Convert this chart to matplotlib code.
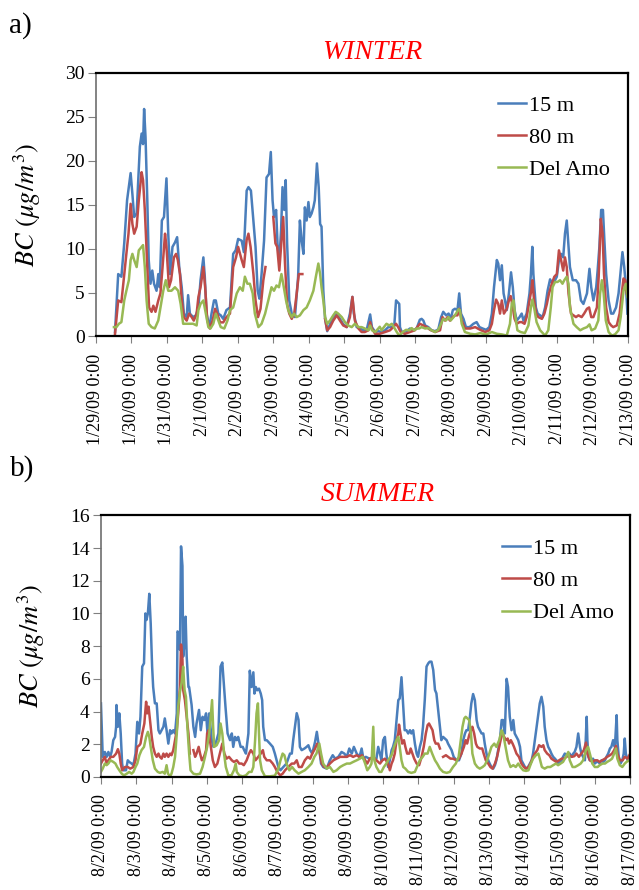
import numpy as np
import matplotlib
matplotlib.use('Agg')
import matplotlib.pyplot as plt

plt.rcParams['font.family'] = ['Liberation Serif', 'DejaVu Serif']
plt.rcParams['mathtext.fontset'] = 'stix'

# time axis in days since the first tick; None marks a gap in the record
winter_ticks = ['1/29/09 0:00', '1/30/09 0:00', '1/31/09 0:00', '2/1/09 0:00',
                '2/2/09 0:00', '2/3/09 0:00', '2/4/09 0:00', '2/5/09 0:00',
                '2/6/09 0:00', '2/7/09 0:00', '2/8/09 0:00', '2/9/09 0:00',
                '2/10/09 0:00', '2/11/09 0:00', '2/12/09 0:00', '2/13/09 0:00']
summer_ticks = ['8/2/09 0:00', '8/3/09 0:00', '8/4/09 0:00', '8/5/09 0:00',
                '8/6/09 0:00', '8/7/09 0:00', '8/8/09 0:00', '8/9/09 0:00',
                '8/10/09 0:00', '8/11/09 0:00', '8/12/09 0:00', '8/13/09 0:00',
                '8/14/09 0:00', '8/15/09 0:00', '8/16/09 0:00', '8/17/09 0:00']
series_names = ['15 m', '80 m', 'Del Amo']

winter_15m = [
    (0.54, 0.5), (0.63, 7.1), (0.72, 6.8), (0.80, 10.6), (0.88, 15.5), (0.98, 18.6),
    (1.03, 16.2), (1.08, 13.6), (1.15, 14.0), (1.24, 21.6), (1.29, 23.1), (1.33, 21.9),
    (1.36, 25.9), (1.40, 22.7), (1.45, 15.5), (1.49, 8.7), (1.54, 6.0), (1.59, 7.5),
    (1.64, 6.0), (1.71, 5.2), (1.76, 7.1), (1.80, 5.6), (1.86, 13.2), (1.92, 13.6),
    (1.99, 18.0), (2.04, 11.7), (2.09, 7.1), (2.16, 10.2), (2.23, 10.7), (2.29, 11.3),
    (2.35, 7.9), (2.42, 5.6), (2.48, 2.6), (2.56, 2.2), (2.60, 4.7), (2.65, 2.6),
    (2.74, 2.2), (2.82, 2.4), (2.89, 3.3), (2.95, 6.4), (3.03, 9.0), (3.07, 6.8),
    (3.12, 2.6), (3.20, 1.06), (3.26, 2.6), (3.33, 4.1), (3.38, 4.1), (3.45, 2.6),
    (3.52, 2.4), (3.59, 2.0), (3.68, 3.0), (3.78, 3.3), (3.87, 9.4), (3.94, 9.8),
    (4.01, 11.1), (4.11, 10.9), (4.17, 9.6), (4.25, 16.6), (4.30, 17.0), (4.37, 16.6),
    (4.44, 13.2), (4.50, 10.2), (4.56, 5.2), (4.61, 4.3), (4.67, 7.1), (4.74, 10.9),
    (4.81, 18.1), (4.88, 18.5), (4.93, 21.0), (4.98, 15.5), (5.02, 13.6), (5.08, 14.4),
    (5.12, 10.5), (5.17, 8.7), (5.22, 12.1), (5.26, 17.0), (5.31, 14.4), (5.35, 17.8),
    (5.39, 10.6), (5.45, 4.1), (5.52, 2.6), (5.61, 2.2), (5.70, 6.8), (5.75, 13.2),
    (5.80, 10.9), (5.85, 9.4), (5.89, 14.7), (5.94, 13.2), (5.99, 15.3), (6.03, 13.6),
    (6.08, 14.0), (6.13, 14.7), (6.17, 15.5), (6.23, 19.7), (6.28, 17.0), (6.32, 12.8),
    (6.36, 12.5), (6.41, 5.2), (6.46, 2.0), (6.52, 0.6), (6.60, 1.4), (6.69, 2.2),
    (6.79, 2.6), (6.88, 2.0), (6.97, 1.4), (7.07, 1.06), (7.16, 2.6), (7.23, 4.5),
    (7.27, 2.6), (7.35, 1.06), (7.44, 0.9), (7.54, 0.7), (7.63, 0.7), (7.73, 2.5),
    (7.78, 1.06), (7.87, 0.5), (7.96, 0.6), (8.05, 0.5), (8.15, 0.7), (8.24, 1.06),
    (8.34, 1.06), (8.41, 1.25), (8.46, 4.1), (8.55, 3.7), (8.57, 1.06), (8.62, 0.5),
    (8.76, 0.6), (8.85, 0.9), (8.95, 0.7), (9.04, 0.9), (9.13, 1.9), (9.18, 2.0),
    (9.23, 1.8), (9.28, 1.25), (9.37, 1.06), (9.46, 0.7), (9.56, 0.6), (9.65, 0.8),
    (9.73, 2.2), (9.79, 2.8), (9.87, 2.4), (9.94, 2.6), (10.00, 2.0), (10.06, 3.0),
    (10.12, 3.15), (10.19, 3.0), (10.24, 4.9), (10.29, 2.6), (10.36, 2.0), (10.43, 1.06),
    (10.53, 1.06), (10.64, 1.44), (10.73, 1.63), (10.81, 1.06), (10.90, 0.9), (11.00, 0.75),
    (11.09, 1.06), (11.16, 2.6), (11.22, 5.6), (11.30, 8.7), (11.34, 8.3), (11.39, 6.4),
    (11.44, 8.1), (11.49, 4.9), (11.53, 4.1), (11.58, 3.0), (11.64, 4.9), (11.70, 7.3),
    (11.75, 5.6), (11.80, 3.0), (11.86, 1.8), (11.94, 2.2), (12.00, 2.6), (12.05, 1.8),
    (12.14, 2.6), (12.22, 4.9), (12.26, 7.1), (12.30, 10.2), (12.33, 7.1), (12.40, 3.3),
    (12.45, 2.6), (12.52, 2.4), (12.59, 2.2), (12.66, 3.3), (12.73, 5.2), (12.80, 6.5),
    (12.87, 6.0), (12.94, 6.4), (12.99, 6.8), (13.05, 8.7), (13.11, 9.4), (13.17, 9.0),
    (13.22, 11.7), (13.27, 13.2), (13.32, 10.2), (13.36, 7.9), (13.44, 6.4), (13.53, 6.4),
    (13.60, 6.0), (13.67, 4.1), (13.74, 3.7), (13.84, 4.9), (13.91, 7.7), (13.96, 5.6),
    (14.02, 4.1), (14.10, 5.6), (14.14, 7.5), (14.19, 10.2), (14.24, 14.4), (14.29, 14.4),
    (14.33, 11.0), (14.38, 7.1), (14.45, 4.1), (14.52, 2.6), (14.58, 2.6), (14.66, 3.3),
    (14.73, 4.9), (14.79, 7.5), (14.84, 9.6), (14.89, 7.9), (14.94, 5.6), (14.98, 2.6),
]

winter_80m = [
    (0.54, 0.3), (0.63, 4.1), (0.72, 3.9), (0.80, 7.1), (0.86, 9.4), (0.92, 11.7),
    (0.98, 15.1), (1.03, 12.8), (1.08, 11.7), (1.15, 12.5), (1.21, 15.5), (1.29, 18.7),
    (1.33, 17.8), (1.38, 14.4), (1.45, 7.9), (1.50, 3.3), (1.57, 2.8), (1.62, 3.5),
    (1.68, 2.8), (1.76, 4.1), (1.82, 4.9), (1.88, 7.9), (1.95, 11.7), (1.99, 10.2),
    (2.06, 5.6), (2.12, 6.4), (2.20, 9.0), (2.26, 9.4), (2.31, 8.7), (2.37, 7.1),
    (2.42, 4.1), (2.48, 2.2), (2.56, 1.8), (2.63, 2.6), (2.70, 2.2), (2.76, 1.8),
    (2.84, 2.6), (2.89, 4.5), (2.95, 5.6), (3.03, 7.9), (3.08, 5.6), (3.14, 1.8),
    (3.21, 0.9), (3.29, 1.8), (3.36, 3.15), (3.42, 2.6), (3.50, 1.6), (3.59, 1.6),
    (3.68, 2.2), (3.78, 2.6), (3.87, 7.9), (3.95, 9.0), (4.01, 10.2), (4.11, 8.7),
    (4.17, 7.9), (4.25, 11.0), (4.30, 11.7), (4.36, 10.2), (4.44, 7.1), (4.50, 4.1),
    (4.57, 2.2), (4.64, 3.15), (4.72, 6.4), (4.78, 7.9), (4.79, None), (5.00, 13.6),
    (5.06, 10.6), (5.11, 10.2), (5.17, 7.5), (5.22, 10.2), (5.28, 13.6), (5.33, 8.3),
    (5.39, 3.7), (5.45, 2.6), (5.52, 2.0), (5.59, 2.6), (5.66, 4.9), (5.72, 7.1),
    (5.82, 7.1), (5.84, None), (6.46, 2.0), (6.52, 0.7), (6.60, 1.06), (6.69, 1.8),
    (6.79, 2.4), (6.88, 1.8), (6.97, 1.25), (7.07, 1.06), (7.16, 2.2), (7.23, 4.5),
    (7.30, 1.8), (7.40, 0.9), (7.49, 0.5), (7.58, 0.5), (7.68, 0.7), (7.73, 1.63),
    (7.78, 0.9), (7.87, 0.3), (8.00, 0.3), (8.15, 0.5), (8.29, 0.7), (8.38, 1.06),
    (8.46, 1.44), (8.52, 1.06), (8.59, 0.5), (8.71, 0.3), (8.85, 0.5), (8.99, 0.7),
    (9.13, 1.44), (9.23, 1.25), (9.32, 1.06), (9.42, 0.75), (9.56, 0.5), (9.70, 0.7),
    (9.77, 2.2), (9.84, 1.8), (9.91, 2.2), (9.98, 1.8), (10.06, 2.2), (10.12, 2.4),
    (10.19, 2.4), (10.24, 3.15), (10.31, 1.8), (10.40, 0.9), (10.55, 0.9), (10.69, 1.06),
    (10.83, 0.75), (10.97, 0.5), (11.09, 0.7), (11.16, 1.44), (11.22, 3.0), (11.28, 4.2),
    (11.34, 3.7), (11.39, 2.6), (11.44, 4.1), (11.50, 2.6), (11.58, 3.15), (11.64, 4.1),
    (11.69, 4.6), (11.75, 3.3), (11.80, 2.0), (11.86, 1.44), (11.94, 1.63), (12.00, 1.63),
    (12.08, 1.44), (12.14, 2.2), (12.22, 4.1), (12.27, 5.2), (12.30, 6.4), (12.35, 4.1),
    (12.41, 2.6), (12.47, 2.2), (12.57, 2.0), (12.64, 2.6), (12.71, 3.7), (12.77, 4.9),
    (12.85, 6.0), (12.92, 6.8), (12.99, 7.1), (13.05, 9.8), (13.11, 8.7), (13.17, 7.5),
    (13.22, 9.0), (13.27, 7.9), (13.32, 4.9), (13.39, 2.6), (13.46, 2.4), (13.53, 2.2),
    (13.60, 2.4), (13.69, 2.2), (13.76, 2.6), (13.84, 3.15), (13.90, 3.3), (13.96, 2.2),
    (14.02, 2.2), (14.12, 3.3), (14.17, 6.8), (14.23, 13.4), (14.28, 11.7), (14.32, 7.1),
    (14.38, 3.3), (14.45, 1.63), (14.52, 1.25), (14.58, 1.06), (14.68, 1.25), (14.76, 2.6),
    (14.82, 4.9), (14.87, 6.6), (14.92, 6.4), (14.96, 4.9),
]

winter_delamo = [
    (0.51, 1.06), (0.58, 1.06), (0.65, 1.44), (0.72, 1.63), (0.80, 4.1), (0.86, 5.2),
    (0.93, 6.4), (0.98, 8.7), (1.03, 9.4), (1.08, 8.7), (1.15, 7.9), (1.21, 9.8),
    (1.29, 10.2), (1.33, 10.4), (1.38, 7.9), (1.43, 4.1), (1.49, 1.44), (1.57, 1.06),
    (1.66, 0.9), (1.76, 1.82), (1.82, 3.3), (1.90, 5.2), (1.97, 6.4), (2.04, 5.2),
    (2.13, 5.2), (2.23, 5.6), (2.32, 5.2), (2.39, 3.7), (2.46, 1.44), (2.56, 1.44),
    (2.65, 1.44), (2.74, 1.44), (2.84, 1.25), (2.89, 3.0), (2.95, 3.7), (3.03, 4.1),
    (3.10, 2.6), (3.17, 1.06), (3.23, 0.9), (3.31, 1.44), (3.38, 2.6), (3.45, 1.82),
    (3.52, 1.06), (3.62, 0.9), (3.71, 1.82), (3.78, 3.0), (3.87, 3.3), (3.97, 4.9),
    (4.06, 5.6), (4.14, 5.2), (4.20, 6.8), (4.27, 6.0), (4.34, 6.0), (4.42, 4.9),
    (4.48, 2.6), (4.58, 1.06), (4.67, 1.44), (4.77, 2.6), (4.86, 4.1), (4.95, 5.6),
    (5.02, 5.2), (5.09, 5.8), (5.16, 5.6), (5.23, 7.1), (5.28, 6.0), (5.36, 4.1),
    (5.42, 3.0), (5.52, 2.2), (5.58, 2.6), (5.66, 2.2), (5.75, 2.4), (5.85, 3.0),
    (5.94, 3.3), (6.03, 4.1), (6.13, 5.2), (6.20, 6.8), (6.27, 8.3), (6.32, 7.1),
    (6.36, 5.6), (6.41, 4.1), (6.46, 2.2), (6.52, 1.44), (6.60, 1.82), (6.69, 2.4),
    (6.76, 2.8), (6.83, 2.6), (6.93, 2.2), (7.02, 1.63), (7.11, 1.25), (7.21, 1.06),
    (7.30, 1.44), (7.40, 1.06), (7.49, 1.06), (7.58, 0.9), (7.68, 0.7), (7.73, 1.25),
    (7.78, 0.7), (7.87, 0.5), (7.96, 0.9), (8.00, 1.1), (8.05, 0.7), (8.12, 1.06),
    (8.19, 1.44), (8.27, 1.25), (8.34, 1.44), (8.40, 1.06), (8.48, 0.5), (8.55, 0.1),
    (8.65, 0.5), (8.74, 0.75), (8.84, 0.7), (8.90, 0.95), (8.97, 0.7), (9.04, 0.9),
    (9.11, 0.9), (9.18, 1.06), (9.28, 0.9), (9.37, 0.95), (9.46, 0.7), (9.56, 0.5),
    (9.65, 0.75), (9.73, 1.44), (9.79, 2.0), (9.87, 1.82), (9.94, 2.2), (10.00, 1.82),
    (10.08, 2.2), (10.15, 2.6), (10.22, 3.1), (10.26, 3.0), (10.31, 1.44), (10.40, 0.5),
    (10.55, 0.3), (10.69, 0.23), (10.83, 0.38), (11.00, 0.23), (11.16, 0.5), (11.30, 0.3),
    (11.44, 0.23), (11.58, 0.1), (11.67, 1.44), (11.72, 3.7), (11.77, 4.1), (11.81, 2.6),
    (11.88, 0.7), (11.97, 0.5), (12.09, 0.38), (12.19, 1.25), (12.26, 3.3), (12.30, 4.2),
    (12.35, 3.3), (12.42, 1.63), (12.52, 0.7), (12.66, 0.1), (12.75, 0.7), (12.82, 3.3),
    (12.87, 5.6), (12.94, 6.2), (13.01, 6.2), (13.08, 6.4), (13.15, 6.0), (13.20, 6.4),
    (13.27, 6.8), (13.32, 6.0), (13.36, 3.3), (13.46, 1.44), (13.55, 1.06), (13.65, 0.7),
    (13.74, 0.9), (13.84, 1.06), (13.91, 1.37), (13.97, 0.7), (14.07, 0.9), (14.16, 1.82),
    (14.21, 4.9), (14.26, 6.4), (14.31, 4.9), (14.37, 1.82), (14.45, 0.5), (14.54, 0.1),
    (14.63, 0.23), (14.73, 0.7), (14.79, 2.2), (14.87, 5.2), (14.94, 6.0), (14.98, 4.5),
]

summer_15m = [
    (0.00, 4.5), (0.05, 1.23), (0.11, 1.53), (0.16, 1.23), (0.21, 1.53), (0.26, 1.23),
    (0.30, 1.53), (0.35, 2.25), (0.40, 2.45), (0.43, 3.07), (0.44, 4.4), (0.48, 3.07),
    (0.52, 3.89), (0.56, 2.66), (0.60, 0.82), (0.63, 0.41), (0.71, 0.41), (0.76, 1.02),
    (0.80, 0.92), (0.87, 0.82), (0.92, 0.72), (0.98, 1.43), (1.03, 3.37), (1.08, 2.66),
    (1.12, 3.68), (1.17, 6.75), (1.22, 6.95), (1.26, 10.0), (1.29, 9.6), (1.33, 10.0),
    (1.37, 11.2), (1.41, 9.4), (1.45, 6.75), (1.48, 5.5), (1.53, 4.5), (1.58, 4.5),
    (1.63, 2.86), (1.67, 2.66), (1.72, 2.86), (1.77, 3.07), (1.81, 3.58), (1.86, 2.86),
    (1.91, 2.04), (1.96, 2.86), (2.00, 2.66), (2.05, 2.86), (2.10, 2.66), (2.15, 3.89),
    (2.17, 8.9), (2.21, 8.8), (2.24, 7.77), (2.27, 14.1), (2.31, 12.9), (2.33, 7.36),
    (2.36, 8.0), (2.40, 9.8), (2.43, 7.36), (2.48, 5.5), (2.50, 5.5), (2.57, 4.4),
    (2.62, 3.07), (2.67, 2.45), (2.71, 3.27), (2.78, 4.1), (2.83, 2.86), (2.88, 3.68),
    (2.93, 3.48), (2.98, 3.89), (3.02, 2.66), (3.07, 3.89), (3.14, 2.25), (3.19, 1.84),
    (3.25, 2.04), (3.33, 2.66), (3.39, 6.75), (3.44, 7.0), (3.49, 5.5), (3.53, 4.3),
    (3.59, 2.66), (3.66, 2.25), (3.71, 2.66), (3.75, 1.84), (3.80, 2.45), (3.85, 2.25),
    (3.89, 2.45), (3.96, 1.84), (4.02, 1.84), (4.06, 1.64), (4.11, 1.43), (4.18, 2.66),
    (4.22, 6.5), (4.27, 5.5), (4.32, 6.4), (4.35, 5.1), (4.39, 5.5), (4.43, 5.3),
    (4.48, 5.4), (4.53, 5.1), (4.57, 4.7), (4.60, 3.07), (4.65, 2.25), (4.70, 2.25),
    (4.79, 2.04), (4.87, 1.84), (4.93, 1.43), (4.98, 1.02), (5.03, 0.61), (5.09, 0.41),
    (5.17, 0.61), (5.26, 0.82), (5.36, 1.43), (5.41, 1.43), (5.45, 2.25), (5.55, 3.9),
    (5.60, 3.5), (5.64, 1.84), (5.69, 1.64), (5.77, 1.74), (5.83, 1.84), (5.88, 1.94),
    (5.93, 1.64), (5.99, 1.43), (6.07, 2.15), (6.12, 2.76), (6.18, 1.84), (6.24, 0.82),
    (6.30, 0.61), (6.40, 0.51), (6.49, 1.02), (6.57, 1.33), (6.64, 1.12), (6.73, 1.23),
    (6.82, 1.53), (6.90, 1.43), (6.97, 1.23), (7.04, 1.74), (7.11, 1.43), (7.17, 1.84),
    (7.25, 1.43), (7.33, 1.23), (7.39, 1.74), (7.44, 1.12), (7.51, 1.23), (7.61, 1.12),
    (7.67, 1.12), (7.72, 1.12), (7.81, 1.12), (7.86, 1.84), (7.91, 1.43), (7.95, 1.02),
    (8.00, 2.25), (8.05, 2.45), (8.09, 1.43), (8.14, 0.61), (8.19, 1.02), (8.24, 1.64),
    (8.28, 1.84), (8.33, 2.25), (8.38, 3.48), (8.43, 4.7), (8.47, 4.8), (8.52, 6.1),
    (8.57, 4.3), (8.61, 2.86), (8.66, 2.86), (8.71, 2.66), (8.76, 2.86), (8.80, 2.66),
    (8.85, 2.86), (8.90, 2.04), (8.95, 1.43), (8.99, 1.23), (9.04, 1.84), (9.09, 2.25),
    (9.13, 3.07), (9.18, 4.7), (9.23, 6.75), (9.28, 6.95), (9.32, 7.05), (9.37, 7.05),
    (9.42, 6.54), (9.47, 5.32), (9.51, 5.11), (9.56, 4.09), (9.61, 3.07), (9.65, 2.25),
    (9.70, 2.45), (9.75, 2.35), (9.80, 2.25), (9.84, 2.04), (9.89, 1.84), (9.94, 1.64),
    (10.00, 1.23), (10.08, 1.02), (10.15, 1.02), (10.22, 1.43), (10.27, 2.25), (10.32, 2.66),
    (10.36, 2.86), (10.41, 2.86), (10.46, 3.68), (10.50, 4.5), (10.55, 5.07), (10.60, 4.7),
    (10.65, 3.48), (10.69, 3.07), (10.74, 2.86), (10.79, 2.66), (10.84, 2.66), (10.88, 2.04),
    (10.93, 1.43), (10.98, 1.02), (11.02, 0.82), (11.07, 0.61), (11.12, 0.51), (11.17, 0.72),
    (11.21, 1.02), (11.26, 1.64), (11.31, 2.25), (11.36, 3.48), (11.40, 3.48), (11.45, 2.66),
    (11.50, 6.0), (11.54, 5.5), (11.59, 3.68), (11.64, 2.86), (11.69, 3.48), (11.73, 2.66),
    (11.78, 2.45), (11.83, 2.25), (11.88, 1.84), (11.92, 1.02), (11.97, 0.82), (12.02, 0.61),
    (12.06, 0.51), (12.11, 0.61), (12.16, 0.82), (12.21, 1.02), (12.25, 1.43), (12.30, 2.25),
    (12.35, 3.07), (12.40, 3.89), (12.44, 4.5), (12.49, 4.9), (12.54, 4.3), (12.58, 3.07),
    (12.63, 2.25), (12.68, 1.84), (12.73, 1.64), (12.77, 1.43), (12.82, 1.23), (12.87, 1.12),
    (12.91, 1.02), (12.96, 0.82), (13.01, 0.92), (13.06, 1.02), (13.10, 1.23), (13.15, 1.43),
    (13.20, 1.33), (13.25, 1.43), (13.29, 1.43), (13.34, 1.23), (13.39, 1.43), (13.43, 1.53),
    (13.48, 1.84), (13.53, 2.66), (13.58, 1.84), (13.62, 1.43), (13.67, 1.23), (13.72, 1.02),
    (13.77, 3.68), (13.79, 2.25), (13.82, 1.23), (13.86, 1.02), (13.91, 1.02), (13.95, 1.12),
    (14.00, 0.82), (14.05, 0.92), (14.10, 0.92), (14.14, 0.82), (14.19, 1.02), (14.24, 0.92),
    (14.29, 1.02), (14.33, 1.23), (14.38, 1.43), (14.43, 1.74), (14.47, 1.84), (14.52, 2.25),
    (14.57, 1.84), (14.62, 3.78), (14.64, 2.25), (14.68, 1.23), (14.73, 0.82), (14.78, 1.02),
    (14.82, 1.43), (14.85, 2.35), (14.88, 1.43), (14.93, 1.02), (14.98, 1.23),
]

summer_80m = [
    (0.00, 0.82), (0.05, 1.02), (0.11, 1.23), (0.16, 0.82), (0.21, 1.02), (0.28, 1.23),
    (0.35, 1.23), (0.43, 1.43), (0.48, 1.7), (0.52, 1.43), (0.56, 0.82), (0.60, 0.41),
    (0.68, 0.61), (0.76, 0.61), (0.83, 0.51), (0.92, 0.61), (0.98, 1.02), (1.03, 1.84),
    (1.09, 1.94), (1.12, 2.04), (1.17, 2.66), (1.23, 3.27), (1.28, 4.6), (1.31, 3.89),
    (1.35, 4.3), (1.39, 3.48), (1.44, 2.45), (1.48, 1.84), (1.53, 1.43), (1.58, 1.23),
    (1.63, 1.43), (1.67, 1.23), (1.72, 1.12), (1.77, 1.43), (1.81, 1.23), (1.86, 1.43),
    (1.91, 1.23), (1.96, 1.43), (2.00, 1.33), (2.05, 1.64), (2.10, 2.25), (2.15, 2.86),
    (2.19, 3.89), (2.24, 5.52), (2.27, 8.1), (2.31, 7.2), (2.33, 5.32), (2.38, 4.7),
    (2.43, 3.68), (2.48, 2.66), (2.52, 1.43), (2.53, None), (2.62, 1.64), (2.67, 1.23),
    (2.71, 1.43), (2.77, 1.84), (2.81, 1.43), (2.86, 1.02), (2.92, 1.23), (2.98, 1.64),
    (3.01, 2.66), (3.05, 2.86), (3.09, 2.25), (3.17, 1.02), (3.23, 0.61), (3.30, 0.82),
    (3.37, 1.43), (3.44, 2.04), (3.50, 1.43), (3.56, 1.12), (3.63, 1.23), (3.71, 1.02),
    (3.77, 0.92), (3.85, 1.02), (3.92, 0.82), (3.99, 0.82), (4.05, 0.72), (4.13, 1.02),
    (4.20, 1.43), (4.25, 1.64), (4.32, 1.43), (4.38, 1.02), (4.46, 1.23), (4.53, 1.43),
    (4.59, 1.64), (4.63, 1.23), (4.70, 1.02), (4.79, 1.02), (4.87, 0.82), (4.93, 0.61),
    (5.00, 0.31), (5.08, 0.10), (5.15, 0.20), (5.22, 0.41), (5.31, 0.61), (5.41, 0.82),
    (5.48, 0.82), (5.55, 1.02), (5.61, 0.61), (5.69, 0.61), (5.78, 1.02), (5.86, 1.23),
    (5.93, 1.12), (5.99, 1.43), (6.07, 1.74), (6.13, 2.04), (6.19, 1.64), (6.26, 0.82),
    (6.33, 0.61), (6.42, 0.61), (6.49, 0.82), (6.59, 1.02), (6.68, 1.12), (6.78, 1.23),
    (6.87, 1.23), (6.97, 1.23), (7.06, 1.33), (7.15, 1.23), (7.25, 1.33), (7.32, 1.23),
    (7.40, 1.33), (7.49, 1.02), (7.55, 0.82), (7.62, 1.12), (7.72, 1.23), (7.81, 1.02),
    (7.91, 0.82), (7.98, 1.02), (8.05, 1.12), (8.14, 0.82), (8.19, 0.41), (8.24, 0.82),
    (8.28, 1.02), (8.33, 1.43), (8.38, 2.25), (8.43, 2.66), (8.45, 3.2), (8.49, 2.66),
    (8.54, 2.04), (8.59, 2.25), (8.63, 1.84), (8.68, 1.43), (8.74, 1.43), (8.78, 1.74),
    (8.83, 1.43), (8.88, 1.12), (8.95, 0.82), (9.02, 0.72), (9.09, 1.23), (9.15, 1.84),
    (9.21, 2.66), (9.26, 3.17), (9.30, 3.27), (9.35, 3.07), (9.40, 2.86), (9.45, 2.25),
    (9.49, 2.04), (9.56, 2.04), (9.61, 1.74), (9.62, None), (9.70, 1.23), (9.78, 1.33),
    (9.84, 1.23), (9.91, 1.12), (9.98, 1.12), (10.08, 1.02), (10.15, 1.12), (10.22, 1.43),
    (10.29, 1.84), (10.34, 2.25), (10.38, 2.04), (10.44, 2.56), (10.49, 2.86), (10.53, 3.07),
    (10.58, 2.66), (10.63, 2.04), (10.67, 1.84), (10.74, 1.74), (10.81, 1.74), (10.85, 1.43),
    (10.91, 1.02), (10.98, 0.82), (11.04, 0.61), (11.10, 0.51), (11.17, 0.82), (11.23, 1.23),
    (11.29, 1.84), (11.34, 2.35), (11.38, 2.66), (11.43, 2.45), (11.48, 2.25), (11.53, 2.35),
    (11.57, 2.04), (11.62, 2.25), (11.67, 2.04), (11.71, 1.84), (11.78, 1.43), (11.85, 1.23),
    (11.92, 0.82), (11.99, 0.61), (12.05, 0.51), (12.12, 0.61), (12.18, 0.82), (12.23, 1.12),
    (12.30, 1.43), (12.37, 1.64), (12.42, 1.94), (12.49, 1.84), (12.54, 1.94), (12.58, 1.64),
    (12.65, 1.43), (12.71, 1.33), (12.77, 1.12), (12.84, 1.02), (12.91, 0.92), (12.99, 1.02),
    (13.06, 1.12), (13.12, 1.12), (13.20, 1.23), (13.27, 1.33), (13.35, 1.23), (13.42, 1.27),
    (13.48, 1.43), (13.55, 1.23), (13.62, 1.43), (13.69, 1.64), (13.75, 2.1), (13.79, 1.43),
    (13.86, 1.02), (13.94, 0.92), (14.00, 1.02), (14.07, 1.02), (14.14, 0.92), (14.21, 1.02),
    (14.29, 1.12), (14.35, 1.23), (14.43, 1.33), (14.49, 1.43), (14.55, 1.64), (14.60, 1.9),
    (14.64, 1.43), (14.71, 1.02), (14.79, 1.02), (14.85, 1.23), (14.93, 1.12), (14.98, 1.33),
]

summer_delamo = [
    (0.00, 0.31), (0.05, 0.51), (0.11, 0.82), (0.16, 0.72), (0.21, 0.82), (0.27, 1.02),
    (0.35, 0.92), (0.41, 0.82), (0.46, 0.61), (0.52, 0.41), (0.59, 0.2), (0.65, 0.1),
    (0.73, 0.2), (0.80, 0.31), (0.87, 0.2), (0.92, 0.31), (0.98, 0.61), (1.03, 0.82),
    (1.09, 1.33), (1.15, 1.64), (1.22, 1.84), (1.28, 2.45), (1.33, 2.76), (1.37, 2.45),
    (1.41, 1.84), (1.47, 1.02), (1.53, 0.51), (1.61, 0.31), (1.67, 0.25), (1.75, 0.31),
    (1.81, 0.2), (1.86, 0.72), (1.90, 0.2), (1.96, 0.04), (2.00, 0.2), (2.05, 0.61),
    (2.10, 1.23), (2.15, 2.66), (2.19, 4.3), (2.24, 5.2), (2.29, 5.8), (2.33, 6.75),
    (2.37, 5.32), (2.41, 4.9), (2.45, 3.07), (2.50, 1.43), (2.54, 0.41), (2.62, 0.2),
    (2.71, 0.16), (2.81, 0.2), (2.88, 0.61), (2.95, 1.23), (3.01, 1.84), (3.07, 2.66),
    (3.11, 3.68), (3.15, 4.7), (3.18, 3.07), (3.21, 1.84), (3.28, 1.94), (3.35, 2.25),
    (3.39, 3.27), (3.44, 2.66), (3.49, 1.43), (3.54, 0.61), (3.61, 0.1), (3.70, 0.1),
    (3.77, 0.41), (3.82, 0.82), (3.85, 0.31), (3.92, 0.1), (4.02, 0.04), (4.11, 0.1),
    (4.20, 0.31), (4.27, 0.31), (4.32, 0.61), (4.37, 2.25), (4.41, 3.89), (4.45, 4.5),
    (4.48, 2.66), (4.51, 1.02), (4.56, 0.41), (4.65, 0.04), (4.79, 0.04), (4.93, 0.08),
    (5.03, 0.51), (5.09, 1.02), (5.15, 1.43), (5.20, 1.33), (5.26, 0.82), (5.34, 0.41),
    (5.42, 0.61), (5.49, 0.41), (5.60, 0.2), (5.69, 0.31), (5.78, 0.41), (5.88, 0.61),
    (5.97, 0.82), (6.05, 1.23), (6.11, 1.43), (6.19, 2.04), (6.24, 1.43), (6.30, 0.82),
    (6.40, 0.51), (6.49, 0.61), (6.59, 0.31), (6.68, 0.41), (6.78, 0.61), (6.87, 0.72),
    (6.97, 0.82), (7.06, 0.82), (7.15, 0.92), (7.25, 1.02), (7.34, 1.12), (7.42, 1.23),
    (7.49, 0.82), (7.55, 0.41), (7.62, 0.61), (7.67, 0.82), (7.72, 3.07), (7.75, 1.02),
    (7.81, 0.61), (7.89, 0.31), (7.95, 0.31), (8.02, 0.61), (8.09, 0.82), (8.17, 1.12),
    (8.24, 1.33), (8.31, 1.84), (8.38, 2.25), (8.43, 2.45), (8.47, 1.84), (8.52, 1.02),
    (8.57, 0.61), (8.63, 0.51), (8.71, 0.31), (8.80, 0.25), (8.90, 0.31), (8.96, 0.61),
    (9.04, 1.02), (9.12, 1.23), (9.18, 1.43), (9.26, 1.43), (9.32, 1.84), (9.39, 1.43),
    (9.47, 1.02), (9.53, 0.82), (9.61, 0.51), (9.70, 0.31), (9.80, 0.25), (9.89, 0.31),
    (9.98, 0.61), (10.06, 0.82), (10.14, 1.23), (10.20, 2.25), (10.25, 3.07), (10.30, 3.58),
    (10.34, 3.68), (10.39, 3.58), (10.44, 3.48), (10.49, 2.66), (10.53, 1.43), (10.60, 0.82),
    (10.67, 0.61), (10.74, 0.51), (10.82, 0.61), (10.88, 0.72), (10.95, 1.02), (11.01, 1.43),
    (11.07, 1.84), (11.15, 2.04), (11.21, 1.84), (11.29, 2.25), (11.36, 2.86), (11.40, 2.66),
    (11.47, 1.84), (11.54, 1.02), (11.61, 0.61), (11.69, 0.72), (11.76, 0.61), (11.83, 0.82),
    (11.89, 0.61), (11.97, 0.41), (12.05, 0.37), (12.12, 0.41), (12.19, 0.82), (12.25, 1.12),
    (12.33, 1.33), (12.40, 1.43), (12.44, 1.12), (12.50, 0.61), (12.58, 0.51), (12.66, 0.61),
    (12.74, 0.61), (12.82, 0.72), (12.90, 0.82), (12.96, 0.72), (13.03, 0.82), (13.10, 0.92),
    (13.18, 1.23), (13.25, 1.53), (13.29, 1.02), (13.37, 0.61), (13.44, 0.61), (13.53, 0.72),
    (13.60, 0.82), (13.67, 1.02), (13.75, 1.64), (13.81, 1.84), (13.86, 1.43), (13.93, 0.82),
    (14.00, 0.61), (14.08, 0.61), (14.14, 0.72), (14.22, 0.82), (14.29, 0.82), (14.35, 0.92),
    (14.43, 1.02), (14.49, 1.12), (14.55, 1.43), (14.60, 1.74), (14.64, 1.12), (14.71, 0.72),
    (14.78, 0.61), (14.85, 0.82), (14.90, 0.92), (14.98, 1.02),
]

colors = ['#4A7EBB', '#BE4B48', '#98B954']


def unpack(pts):
    t = np.array([p[0] for p in pts], dtype=float)
    v = np.array([np.nan if p[1] is None else p[1] for p in pts], dtype=float)
    return t, v


def draw_panel(ax, series, ticks, ymax, ystep, title, title_x, legend_xy, ylabel_x):
    for pts, name, c in zip(series, series_names, colors):
        t, v = unpack(pts)
        ax.plot(t, v, color=c, lw=1.8, label=name, solid_joinstyle='round')
    ax.set_xlim(0, len(ticks) - 1)
    ax.set_ylim(0, ymax)
    ax.set_yticks(np.arange(0, ymax + ystep / 2, ystep))
    ax.set_xticks(np.arange(len(ticks)))
    ax.set_xticklabels(ticks, rotation=90, fontsize=13)
    ax.tick_params(axis='y', labelsize=14, direction='out', length=6,
                   color='#808080', pad=2)
    ax.tick_params(axis='x', direction='out', length=5, color='#808080', pad=7.5)
    for side in ['top', 'right', 'bottom']:
        ax.spines[side].set_color('black')
        ax.spines[side].set_linewidth(1.6)
    ax.spines['left'].set_color('#6E6E6E')
    ax.spines['left'].set_linewidth(1.2)
    ax.set_title(title, color='#FF0000', style='italic', fontsize=20, pad=10,
                 x=title_x)
    ax.set_ylabel(r'$BC\ (\mu g/m^3)$', fontsize=19)
    ax.yaxis.set_label_coords(ylabel_x, 0.5)
    ax.legend(loc='upper left', bbox_to_anchor=legend_xy, frameon=False,
              fontsize=16, handlelength=1.27, handletextpad=0.12,
              labelspacing=0.52, borderpad=0, borderaxespad=0)


fig = plt.figure(figsize=(6.39, 8.90), dpi=100)
ax1 = fig.add_axes([0.150, 0.622, 0.833, 0.296])
ax2 = fig.add_axes([0.158, 0.127, 0.828, 0.294])

draw_panel(ax1, [winter_15m, winter_80m, winter_delamo], winter_ticks,
           30, 5, 'WINTER', 0.519, (0.756, 0.915), -0.099)
draw_panel(ax2, [summer_15m, summer_80m, summer_delamo], summer_ticks,
           16, 2, 'SUMMER', 0.523, (0.758, 0.911), -0.102)

fig.text(0.014, 0.971, 'a)', fontsize=21, va='center')
fig.text(0.016, 0.474, 'b)', fontsize=21, va='center')

fig.savefig('out.png', dpi=100)
